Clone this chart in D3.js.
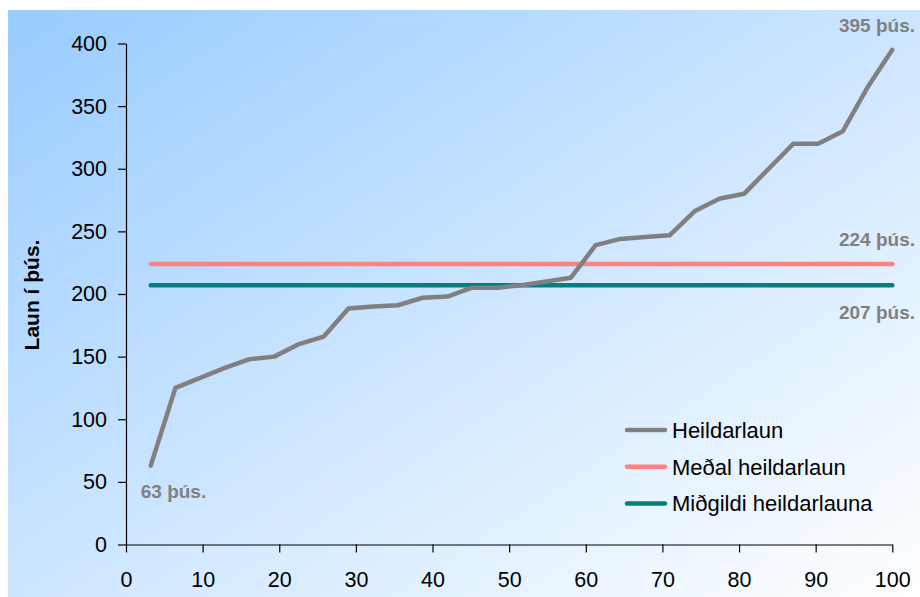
<!DOCTYPE html>
<html>
<head>
<meta charset="utf-8">
<script src="https://cdn.jsdelivr.net/npm/d3@7"></script>
<style>
  html, body { margin: 0; padding: 0; background: #ffffff; }
  svg { display: block; font-family: Arial, "Liberation Sans", sans-serif; }
</style>
</head>
<body>
<svg id="chart" width="920" height="597"></svg>
<script>
// ---- data ----
const percentiles = [3.23, 6.45, 9.68, 12.9, 16.13, 19.35, 22.58, 25.81, 29.03, 32.26,
  35.48, 38.71, 41.94, 45.16, 48.39, 51.61, 54.84, 58.06, 61.29, 64.52,
  67.74, 70.97, 74.19, 77.42, 80.65, 83.87, 87.1, 90.32, 93.55, 96.77, 100];
const heildarlaun = [63, 125, 133, 141, 148, 150, 160, 166, 188.5, 190,
  191, 197, 198, 205, 205, 207, 210, 213, 239, 244,
  245.5, 247, 266, 276, 280, 300, 320, 320, 330, 365, 395];
const medalValue = 224;
const midgildiValue = 207;
const seriesNames = ["Heildarlaun", "Meðal heildarlaun", "Miðgildi heildarlauna"];
const seriesColors = ["#808080", "#FF8080", "#008080"];
const yTicks = [0, 50, 100, 150, 200, 250, 300, 350, 400];
const xTicks = [0, 10, 20, 30, 40, 50, 60, 70, 80, 90, 100];
const yTitle = "Laun í þús.";
const unit = " þús.";

// ---- layout ----
const svg = d3.select("#chart");
const W = 920, H = 597;
const m = { left: 126, right: 920 - 892.3, top: 43.5, bottom: 597 - 544.5 };

// background gradient panel
const defs = svg.append("defs");
const grad = defs.append("linearGradient").attr("id", "bg")
  .attr("x1", "0").attr("y1", "0").attr("x2", "1").attr("y2", "1");
grad.append("stop").attr("offset", "0").attr("stop-color", "#99CCFF");
grad.append("stop").attr("offset", "1").attr("stop-color", "#FFFFFF");
svg.append("rect").attr("x", 8).attr("y", 10).attr("width", W - 8).attr("height", H - 10)
  .attr("fill", "url(#bg)");

const x = d3.scaleLinear().domain([0, 100]).range([m.left, W - m.right]);
const y = d3.scaleLinear().domain([0, 400]).range([H - m.bottom, m.top]);

// axes
const yAxis = svg.append("g").attr("transform", `translate(${m.left},0)`)
  .call(d3.axisLeft(y).tickValues(yTicks).tickSize(8).tickPadding(11).tickSizeOuter(0));
const xAxis = svg.append("g").attr("transform", `translate(0,${y(0)})`)
  .call(d3.axisBottom(x).tickValues(xTicks).tickSize(8).tickPadding(19).tickSizeOuter(0));
[yAxis, xAxis].forEach(g => {
  g.select(".domain").attr("stroke", "#000").attr("stroke-width", 1.2);
  g.selectAll(".tick line").attr("stroke", "#000").attr("stroke-width", 1.2);
  g.selectAll(".tick text").attr("fill", "#000").style("font-size", "21.5px")
    .style("font-family", "Arial, 'Liberation Sans', sans-serif");
});

// y axis title
svg.append("text")
  .attr("transform", `translate(39,295) rotate(-90)`)
  .attr("text-anchor", "middle")
  .style("font-size", "21px").style("font-weight", "bold").attr("fill", "#000")
  .text(yTitle);

// lines
const line = d3.line().x(d => x(d[0])).y(d => y(d[1]));
const mainData = percentiles.map((p, i) => [p, heildarlaun[i]]);
const medalData = percentiles.map(p => [p, medalValue]);
const midData = percentiles.map(p => [p, midgildiValue]);

[[medalData, seriesColors[1]], [midData, seriesColors[2]], [mainData, seriesColors[0]]].forEach(([d, c]) => {
  svg.append("path").datum(d).attr("d", line)
    .attr("fill", "none").attr("stroke", c).attr("stroke-width", 4.5)
    .attr("stroke-linejoin", "round").attr("stroke-linecap", "round");
});

// annotations
const labelStyle = sel => sel.style("font-size", "19px").style("font-weight", "bold").attr("fill", "#808080");
const first = mainData[0], last = mainData[mainData.length - 1];
svg.append("text").attr("x", x(first[0]) - 10).attr("y", y(first[1]) + 32)
  .call(labelStyle).text(first[1] + unit);
svg.append("text").attr("x", 915).attr("y", y(last[1]) - 18).attr("text-anchor", "end")
  .call(labelStyle).text(last[1] + unit);
svg.append("text").attr("x", 915).attr("y", y(medalValue) - 18).attr("text-anchor", "end")
  .call(labelStyle).text(medalValue + unit);
svg.append("text").attr("x", 915).attr("y", y(midgildiValue) + 34).attr("text-anchor", "end")
  .call(labelStyle).text(midgildiValue + unit);

// legend
const legend = svg.append("g").attr("transform", "translate(625,430)");
seriesNames.forEach((name, i) => {
  const g = legend.append("g").attr("transform", `translate(0,${i * 36.7})`);
  g.append("line").attr("x1", 2).attr("x2", 40).attr("y1", 0).attr("y2", 0)
    .attr("stroke", seriesColors[i]).attr("stroke-width", 4.5).attr("stroke-linecap", "round");
  g.append("text").attr("x", 47).attr("y", 8).style("font-size", "22px").attr("fill", "#000").text(name);
});
</script>
</body>
</html>
